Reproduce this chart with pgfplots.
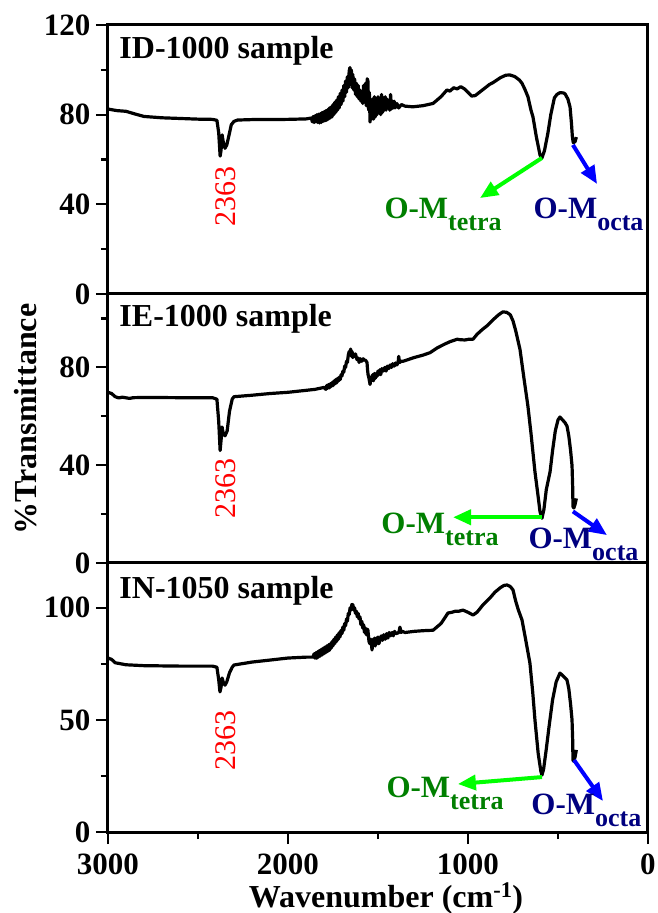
\documentclass[border=0pt]{standalone}
\usepackage{pgfplots}
\pgfplotsset{compat=1.18}
\usepackage{fontspec}
\setmainfont{Liberation Serif}
\usetikzlibrary{arrows.meta}
\definecolor{tetratext}{HTML}{007F00}
\definecolor{octatext}{HTML}{00007F}
\definecolor{tetraarrow}{HTML}{00FF00}
\definecolor{octaarrow}{HTML}{0000FF}

\pgfplotsset{
  ftir/.style={
    scale only axis, width=540pt, height=269pt,
    xmin=0, xmax=3000, x dir=reverse,
    every axis/.append style={line width=3pt},
    axis line style={line width=3pt},
    tick style={line width=2.2pt, black},
    major tick length=12pt, minor tick length=7pt,
    tick align=outside, tick pos=left,
    ticklabel style={font=\fontsize{31}{31}\selectfont\bfseries, inner sep=1pt},
    xticklabel style={yshift=-7pt},
    yticklabel style={xshift=-3pt},
    /pgf/number format/assume math mode=true,
    /pgf/number format/1000 sep={},
    clip=false,
  },
}
\tikzset{
  spec/.style={black, line width=3.2pt, line join=round},
  samp/.style={font=\fontsize{32}{32}\selectfont\bfseries, anchor=base west, inner sep=0pt},
  band/.style={font=\fontsize{30}{30}\selectfont, text=red, rotate=90, anchor=base west, inner sep=0pt},
  tarr/.style={tetraarrow, line width=4pt, -{Triangle[length=18pt,width=15pt]}},
  oarr/.style={octaarrow, line width=4pt, -{Triangle[length=18pt,width=15pt]}},
}
\newcommand{\tetra}{\textcolor{tetratext}{\fontsize{31}{31}\selectfont\bfseries O-M\raisebox{-12pt}{\fontsize{26}{26}\selectfont tetra}}}
\newcommand{\octa}{\textcolor{octatext}{\fontsize{31}{31}\selectfont\bfseries O-M\raisebox{-12pt}{\fontsize{26}{26}\selectfont octa}}}

\begin{document}
\begin{tikzpicture}
% top panel: ID-1000
\begin{axis}[ftir, at={(0,538pt)}, anchor=south west,
  ymin=0, ymax=120, ytick={0,40,80,120}, minor ytick={20,60,100},
  xtick=\empty]
\addplot[spec] coordinates {
(3000,82.5) (2950,81.8) (2900,81.5) (2850,80.3) (2800,79.2) (2700,78.6) (2600,78.3)
(2500,78.0) (2420,77.9) (2395,77.5) (2385,72) (2377,61.5) (2372,64) (2366,71) (2360,68)
(2350,65) (2340,66.5) (2330,70) (2315,75.5) (2300,77) (2280,77.6) (2200,77.8) (2100,77.8)
(2000,77.9) (1900,78.1) (1870,78.5) (1865,76.8) (1860,79.2) (1855,76.5) (1850,79.5)
(1845,76.8) (1840,80) (1835,76.5) (1830,80.2) (1825,76.3) (1820,80.5) (1815,76.5) (1810,81)
(1805,77) (1800,81.3) (1795,77.2) (1790,81.8) (1785,77.5) (1780,82.2) (1775,78) (1770,83)
(1765,78.5) (1760,83.5) (1755,79) (1750,84.5) (1745,80) (1740,85.5) (1735,81) (1730,86.5)
(1725,82) (1720,88) (1715,83) (1710,89.5) (1705,84.5) (1700,91) (1695,86) (1690,93)
(1685,88) (1680,95) (1675,90) (1670,97) (1665,92) (1660,99.5) (1656,101) (1652,94)
(1648,100) (1644,92) (1640,98) (1635,91) (1630,96) (1625,89) (1620,94) (1615,88)
(1610,93) (1605,87) (1600,91) (1595,86) (1590,89) (1585,85) (1580,93) (1575,86) (1570,94)
(1565,84) (1560,96) (1556,95) (1552,82) (1548,90) (1544,76.7) (1540,86) (1535,78)
(1530,87) (1525,78) (1520,88) (1515,79) (1510,86) (1505,80) (1500,88) (1495,81) (1490,86)
(1485,80) (1480,89) (1475,81) (1470,87) (1465,82) (1460,88) (1455,82) (1450,87) (1445,83)
(1440,86) (1435,82) (1430,89) (1425,82.5) (1420,86) (1415,83) (1410,86) (1405,83)
(1395,85) (1385,83) (1370,84.5) (1350,83.8) (1306,83.5) (1250,84) (1194,85) (1150,88)
(1117,91) (1100,90.5) (1080,92) (1060,91.5) (1040,92.5) (1020,91.5) (1000,90) (980,88.3)
(960,88.5) (920,91) (880,93.5) (861,94.3) (820,96.5) (790,97.6) (767,97.7) (740,97)
(715,95.5) (700,94) (685,91.5) (667,88) (650,82) (639,79) (620,70) (600,62) (589,60.7)
(575,64) (556,71.8) (540,80) (520,87.5) (506,89) (490,89.8) (470,89.7) (461,89.3) (445,87)
(433,83.4) (425,76) (420,70) (415,67.5) (405,68) (398,70)
};
\node[samp] at (rel axis cs:0,1) [xshift=10pt, yshift=-34pt] {ID-1000 sample};
\node[band] at (axis cs:2294,29.4) {2363};
\draw[tarr] (axis cs:589,60.7) -- (axis cs:933,42.8);
\draw[oarr] (axis cs:417,66.5) -- (axis cs:283,49.1);
\node[anchor=base west, inner sep=0pt] at (axis cs:1472,33.9) {\tetra};
\node[anchor=base west, inner sep=0pt] at (axis cs:644,33.9) {\octa};
\end{axis}

% middle panel: IE-1000
\begin{axis}[ftir, at={(0,269pt)}, anchor=south west,
  ymin=0, ymax=110, ytick={0,40,80}, minor ytick={20,60,100},
  xtick=\empty]
\addplot[spec] coordinates {
(3000,69.8) (2980,69.3) (2960,68) (2940,67.5) (2920,67.8) (2880,67.3) (2860,67.6) (2800,67.7)
(2600,67.6) (2420,67.6) (2395,67) (2385,58) (2377,46) (2372,50) (2366,55.6) (2360,53)
(2350,52) (2338,54) (2325,62) (2310,67) (2300,68) (2200,68.6) (2100,69.3) (2000,69.8)
(1900,70.6) (1850,71) (1800,71.8) (1790,71) (1785,72.6) (1780,71.4) (1775,73) (1770,71.6)
(1765,73.3) (1760,72.2) (1755,73.8) (1750,72.5) (1745,74.4) (1740,73.2) (1735,75) (1730,73.6)
(1725,75.5) (1720,74.4) (1715,76) (1710,75) (1705,77) (1700,76.5) (1695,78.5) (1690,78)
(1685,80.5) (1680,80) (1675,82.5) (1670,82) (1665,85) (1660,86.5) (1656,85) (1652,87.5)
(1648,84.5) (1644,86.5) (1640,84) (1635,85.5) (1630,84.5) (1625,85.5) (1617,83.2)
(1610,83.8) (1605,82) (1598,83.5) (1590,82.5) (1582,83.5) (1575,83) (1568,82.8)
(1561,82) (1558,79) (1555,77) (1550,75.5) (1544,73) (1540,76) (1535,74.5) (1530,77)
(1525,74.5) (1520,77.5) (1515,75.5) (1510,77.5) (1506,76.3) (1500,78.5) (1495,77)
(1490,79) (1485,77) (1478,79.5) (1470,78.5) (1462,80) (1455,78.5) (1448,80.5) (1440,79.5)
(1432,81) (1425,80) (1418,81.5) (1410,80.5) (1402,81.8) (1395,81) (1388,82) (1385,84.5)
(1380,82) (1370,82.5) (1360,82.5) (1340,83) (1300,84) (1250,85) (1211,86) (1170,88)
(1130,89.5) (1100,90.5) (1080,91) (1060,91.5) (1044,91.3) (1017,91.2) (995,91.5) (972,91.5)
(950,93.5) (920,95.5) (894,97) (860,99.5) (830,101.5) (806,102.7) (785,102.5) (765,101.5)
(750,99) (735,95) (711,87.3) (690,76) (667,64.1) (650,53) (628,37.3) (610,27) (600,21)
(589,18.3) (578,22) (565,30) (544,37.3) (530,46) (515,54) (500,58.5) (489,59.7) (475,58.5)
(462,57.5) (450,56) (440,52) (430,46) (422,39.8) (418,30) (417,23.1) (412,22.5) (405,24)
(398,26.4)
};
\node[samp] at (rel axis cs:0,1) [xshift=10pt, yshift=-33pt] {IE-1000 sample};
\node[band] at (axis cs:2294,17.5) {2363};
\draw[tarr] (axis cs:589,18.7) -- (axis cs:1083,18.7);
\draw[oarr] (axis cs:417,21.1) -- (axis cs:228,11.4);
\node[anchor=base west, inner sep=0pt] at (axis cs:1489,12.2) {\tetra};
\node[anchor=base west, inner sep=0pt] at (axis cs:672,5.8) {\octa};
\end{axis}

% bottom panel: IN-1050
\begin{axis}[ftir, at={(0,0)}, anchor=south west,
  ymin=0, ymax=120, ytick={0,50,100}, minor ytick={25,75},
  xtick={0,1000,2000,3000}, minor xtick={500,1500,2500}]
\addplot[spec] coordinates {
(3000,77.6) (2980,77) (2960,75.5) (2940,75.2) (2900,74.6) (2800,74.2) (2600,74) (2420,74)
(2395,73.5) (2385,68) (2378,62.5) (2372,64.5) (2366,68.7) (2360,67) (2350,65.5) (2340,67)
(2325,71) (2310,73.5) (2300,74.5) (2200,75.8) (2100,76.7) (2000,77.6) (1900,78) (1861,78)
(1855,79.5) (1850,77.5) (1845,80) (1840,77.5) (1835,80.5) (1830,78) (1825,81) (1820,78.5)
(1815,81.5) (1810,79) (1805,82) (1800,79.5) (1795,82.5) (1790,80) (1785,83) (1780,80.5)
(1775,83.5) (1770,81) (1765,84) (1760,82) (1755,85) (1750,83) (1745,86) (1740,84)
(1735,87) (1730,85) (1725,88) (1720,86) (1715,89) (1711,87) (1705,90) (1700,88.5)
(1695,91.5) (1690,90) (1685,93) (1680,92) (1675,95) (1670,94) (1665,97.5) (1660,97)
(1655,100) (1650,99) (1645,101.5) (1639,101.3) (1635,99) (1630,100) (1625,97.5) (1620,98.5)
(1615,96) (1610,97.5) (1605,95) (1600,96) (1595,92.5) (1590,94) (1585,91) (1580,92.5)
(1575,89) (1570,91) (1565,88) (1560,90.5) (1556,90) (1550,85) (1545,84) (1540,86)
(1533,81.2) (1528,86) (1525,83) (1520,86.5) (1515,83) (1510,86.5) (1505,84) (1500,87)
(1495,84) (1489,85.6) (1482,87.5) (1475,85.5) (1468,88) (1460,86) (1452,88.5) (1445,86.5)
(1438,89) (1430,87.5) (1422,89) (1415,87.5) (1408,89.5) (1400,88.5) (1389,88.8) (1384,89)
(1378,91.4) (1372,89) (1365,89.5) (1350,89) (1300,89.5) (1250,89.8) (1194,90)
(1150,93) (1111,97.7) (1090,98) (1070,98.5) (1050,98.5) (1028,99) (1000,98) (972,96.8)
(950,98) (920,101) (878,104.4) (850,107) (820,109) (800,110) (783,110.2) (765,109.5)
(750,108) (735,103) (720,99) (700,94.6) (680,86) (656,75.4) (640,62) (628,50) (610,35)
(595,27) (589,25.4) (580,28) (565,37) (550,46.8) (530,59) (510,67) (489,70.9) (470,69.5)
(450,67.8) (440,64) (430,57) (422,50) (418,40) (417,32.1) (412,31.5) (405,33.5) (398,36.6)
};
\node[samp] at (rel axis cs:0,1) [xshift=10pt, yshift=-36pt] {IN-1050 sample};
\node[band] at (axis cs:2294,26.8) {2363};
\draw[tarr] (axis cs:589,24.5) -- (axis cs:1056,21.4);
\draw[oarr] (axis cs:411,32.1) -- (axis cs:250,13.8);
\node[anchor=base west, inner sep=0pt] at (axis cs:1461,15.6) {\tetra};
\node[anchor=base west, inner sep=0pt] at (axis cs:656,7.6) {\octa};
\end{axis}

\node[rotate=90, anchor=base, font=\fontsize{32}{32}\selectfont\bfseries, inner sep=0pt]
  at (-71pt,413pt) {\%Transmittance};
\node[anchor=base, font=\fontsize{32}{32}\selectfont\bfseries, inner sep=0pt]
  at (278pt,-75pt) {Wavenumber (cm\textsuperscript{-1})};

\pgfresetboundingbox
\path (-108pt,-81pt) rectangle (549pt,832pt);
\end{tikzpicture}
\end{document}
